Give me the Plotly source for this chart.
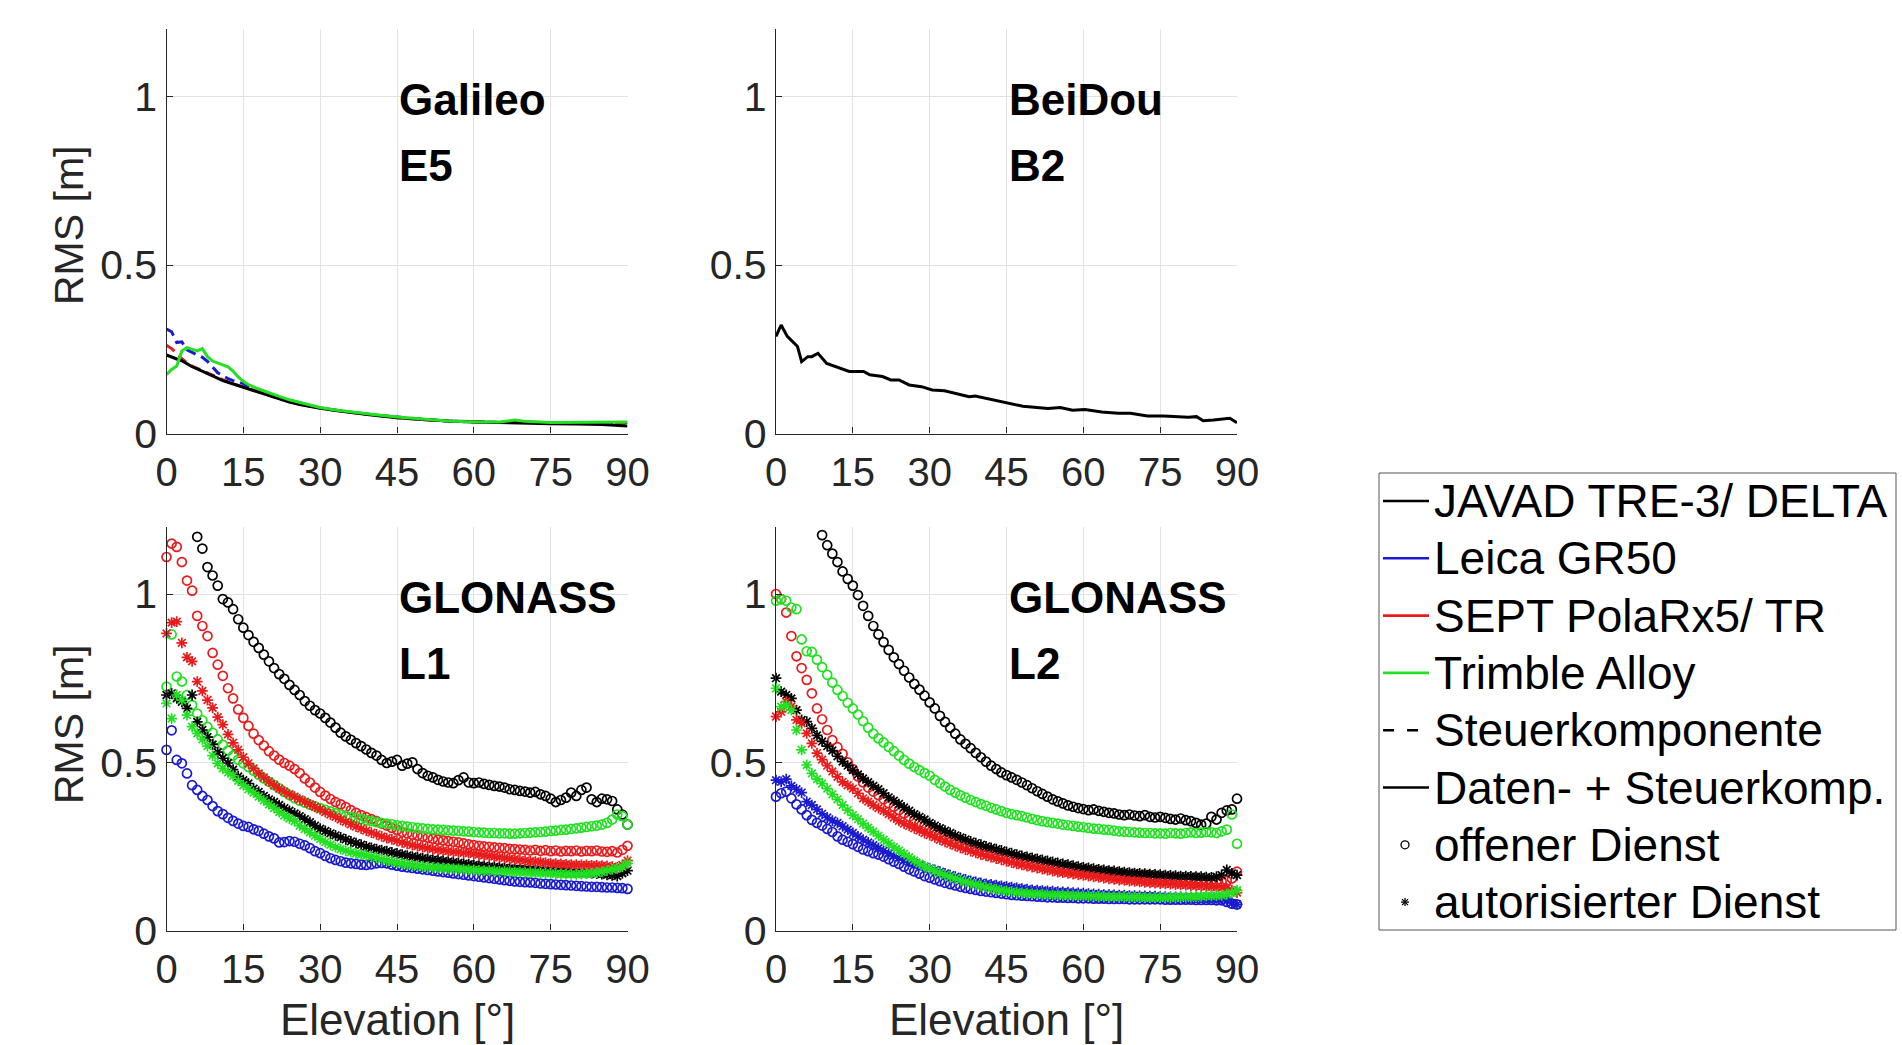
import plotly.graph_objects as go

# ---------------- data ----------------
ELEV = list(range(0, 91))          # elevation grid [deg] for GLONASS scatter data
X_TICKS = [0, 15, 30, 45, 60, 75, 90]
Y_TICKS = [0, 0.5, 1]
Y_TICKTEXT = ["0", "0.5", "1"]

# Galileo E5 (lines)
GAL_ELEV = [0, 1, 2, 3, 4, 5, 6, 7, 8, 9, 10, 11, 12, 13, 14, 15, 16, 18, 20, 22, 24, 26, 28, 30,
            33, 36, 40, 45, 50, 55, 60, 65, 68, 70, 75, 80, 85, 90]
GAL_JAVAD = [0.233, 0.226, 0.221, 0.216, 0.206, 0.198, 0.192, 0.185, 0.178, 0.17, 0.163, 0.157, 0.152,
             0.147, 0.142, 0.137, 0.132, 0.122, 0.112, 0.102, 0.093, 0.086, 0.08, 0.075, 0.068, 0.062,
             0.055, 0.047, 0.041, 0.037, 0.034, 0.032, 0.03, 0.03, 0.029, 0.028, 0.027, 0.022]
GAL_LEICA = [0.31, 0.302, 0.27, 0.272, 0.248, 0.24, 0.232, 0.226, 0.214, 0.196, 0.18, 0.172, 0.163,
             0.157, 0.152, 0.148, 0.14, 0.128, 0.116, 0.104, 0.095, 0.087, 0.081, 0.076, 0.069, 0.063,
             0.056, 0.048, 0.042, 0.037, 0.034, 0.033, 0.033, 0.033, 0.032, 0.032, 0.033, 0.033]
GAL_SEPT = [0.262, 0.252, 0.238, 0.222, 0.21, 0.2, 0.193, 0.186, 0.179, 0.172, 0.165, 0.159, 0.153,
            0.148, 0.143, 0.139, 0.134, 0.125, 0.114, 0.104, 0.094, 0.087, 0.081, 0.076, 0.069, 0.063,
            0.056, 0.047, 0.041, 0.037, 0.034, 0.033, 0.033, 0.032, 0.031, 0.031, 0.031, 0.031]
GAL_TRIMBLE = [0.175, 0.19, 0.2, 0.245, 0.255, 0.25, 0.245, 0.252, 0.228, 0.215, 0.21, 0.205, 0.198,
               0.185, 0.168, 0.155, 0.145, 0.132, 0.12, 0.11, 0.1, 0.092, 0.083, 0.077, 0.07, 0.064,
               0.057, 0.049, 0.042, 0.037, 0.034, 0.034, 0.04, 0.036, 0.033, 0.033, 0.034, 0.034]

# BeiDou B2 (line)
BDS_ELEV = [0, 1, 2.2, 3.4, 4.2, 5, 6.2, 7, 8.2, 9.9, 11.9, 14.3, 17.1, 18.3, 20.8, 22.4, 24, 26, 28.4,
            30.5, 32.9, 35.3, 37.7, 38.9, 41.8, 45, 48.2, 53.1, 55.5, 57.9, 60.3, 63.6, 66.8, 69.2, 72.5,
            75.7, 80.5, 82.1, 83.4, 85.4, 88.6, 90]
BDS_JAVAD = [0.288, 0.322, 0.288, 0.268, 0.258, 0.213, 0.228, 0.228, 0.238, 0.208, 0.198, 0.184, 0.184,
             0.174, 0.169, 0.159, 0.159, 0.144, 0.139, 0.129, 0.127, 0.117, 0.109, 0.111, 0.101, 0.091,
             0.081, 0.074, 0.077, 0.069, 0.071, 0.064, 0.06, 0.06, 0.052, 0.052, 0.048, 0.05, 0.038,
             0.04, 0.045, 0.032]

N = None
# GLONASS L1 - offener Dienst (circles) / autorisierter Dienst (stars)
L1_JAVAD_OS = [N, N, N, N, N, N, 1.17, 1.135, 1.08, 1.055,
               1.025, 0.985, 0.975, 0.955, 0.925, 0.9, 0.878, 0.858, 0.84, 0.82,
               0.8, 0.78, 0.762, 0.748, 0.73, 0.715, 0.7, 0.682, 0.668, 0.655,
               0.645, 0.632, 0.618, 0.603, 0.588, 0.577, 0.567, 0.557, 0.548, 0.538,
               0.528, 0.52, 0.507, 0.498, 0.502, 0.507, 0.49, 0.496, 0.5, 0.48,
               0.468, 0.46, 0.455, 0.448, 0.443, 0.44, 0.438, 0.447, 0.455, 0.44,
               0.438, 0.44, 0.436, 0.433, 0.43, 0.428, 0.425, 0.42, 0.418, 0.415,
               0.413, 0.41, 0.412, 0.405, 0.4, 0.392, 0.382, 0.388, 0.395, 0.41,
               0.4, 0.418, 0.425, 0.39, 0.382, 0.392, 0.39, 0.385, 0.36, 0.345,
               0.315]
L1_SEPT_OS = [1.11, 1.15, 1.14, 1.095, 1.04, 1.01, 0.935, 0.905, 0.875, 0.825,
              0.79, 0.757, 0.72, 0.69, 0.657, 0.632, 0.608, 0.585, 0.566, 0.55,
              0.533, 0.52, 0.508, 0.498, 0.49, 0.48, 0.468, 0.452, 0.44, 0.425,
              0.412, 0.401, 0.391, 0.382, 0.375, 0.367, 0.358, 0.35, 0.343, 0.337,
              0.331, 0.325, 0.318, 0.312, 0.305, 0.299, 0.293, 0.289, 0.285, 0.282,
              0.279, 0.276, 0.273, 0.27, 0.268, 0.266, 0.264, 0.262, 0.259, 0.256,
              0.254, 0.252, 0.25, 0.249, 0.247, 0.246, 0.245, 0.243, 0.242, 0.241,
              0.24, 0.238, 0.24, 0.237, 0.239, 0.236, 0.238, 0.235, 0.237, 0.236,
              0.238, 0.235, 0.237, 0.236, 0.238, 0.235, 0.234, 0.236, 0.232, 0.24,
              0.252]
L1_SEPT_AS = [0.883, 0.915, 0.918, 0.855, 0.812, 0.8, 0.74, 0.712, 0.685, 0.662,
              0.634, 0.612, 0.583, 0.558, 0.537, 0.515, 0.497, 0.482, 0.467, 0.455,
              0.443, 0.432, 0.422, 0.413, 0.405, 0.398, 0.39, 0.383, 0.375, 0.368,
              0.36, 0.352, 0.345, 0.338, 0.33, 0.323, 0.316, 0.309, 0.303, 0.297,
              0.291, 0.286, 0.28, 0.275, 0.271, 0.267, 0.262, 0.258, 0.254, 0.251,
              0.248, 0.245, 0.243, 0.24, 0.238, 0.236, 0.234, 0.233, 0.231, 0.23,
              0.228, 0.226, 0.224, 0.222, 0.22, 0.218, 0.216, 0.214, 0.212, 0.21,
              0.208, 0.206, 0.205, 0.204, 0.202, 0.2, 0.199, 0.198, 0.197, 0.196,
              0.196, 0.195, 0.195, 0.194, 0.194, 0.193, 0.192, 0.19, 0.188, 0.195,
              0.208]
L1_TRIM_OS = [0.725, 0.88, 0.755, 0.74, 0.7, 0.67, 0.645, 0.625, 0.605, 0.588,
              0.568, 0.552, 0.535, 0.52, 0.508, 0.497, 0.486, 0.475, 0.463, 0.452,
              0.442, 0.433, 0.423, 0.412, 0.402, 0.393, 0.386, 0.38, 0.374, 0.369,
              0.364, 0.359, 0.354, 0.349, 0.345, 0.341, 0.337, 0.334, 0.331, 0.328,
              0.325, 0.322, 0.32, 0.318, 0.316, 0.313, 0.311, 0.309, 0.307, 0.305,
              0.304, 0.302, 0.301, 0.3, 0.299, 0.298, 0.297, 0.296, 0.295, 0.294,
              0.293, 0.292, 0.291, 0.29, 0.29, 0.289, 0.289, 0.288, 0.288, 0.289,
              0.29, 0.291, 0.292, 0.293, 0.294, 0.296, 0.297, 0.299, 0.3, 0.302,
              0.304, 0.306, 0.308, 0.31, 0.312, 0.315, 0.32, 0.33, 0.345, 0.34,
              0.315]
L1_TRIM_AS = [0.675, 0.63, 0.7, 0.685, 0.64, 0.606, 0.586, 0.568, 0.548, 0.52,
              0.497, 0.482, 0.47, 0.46, 0.445, 0.432, 0.42, 0.41, 0.398, 0.387,
              0.375, 0.364, 0.352, 0.342, 0.333, 0.325, 0.312, 0.302, 0.292, 0.282,
              0.272, 0.263, 0.255, 0.248, 0.242, 0.237, 0.233, 0.229, 0.226, 0.223,
              0.22, 0.216, 0.212, 0.208, 0.205, 0.202, 0.199, 0.196, 0.194, 0.192,
              0.19, 0.189, 0.188, 0.187, 0.186, 0.185, 0.184, 0.183, 0.182, 0.181,
              0.18, 0.179, 0.178, 0.178, 0.177, 0.176, 0.176, 0.175, 0.174, 0.174,
              0.173, 0.172, 0.172, 0.171, 0.17, 0.17, 0.169, 0.168, 0.168, 0.167,
              0.167, 0.168, 0.169, 0.17, 0.172, 0.175, 0.178, 0.182, 0.185, 0.19,
              0.2]
L1_JAVAD_AS = [0.7, 0.705, 0.69, 0.68, 0.66, 0.7, 0.62, 0.596, 0.575, 0.553,
               0.53, 0.512, 0.498, 0.478, 0.458, 0.447, 0.437, 0.422, 0.412, 0.4,
               0.39, 0.382, 0.373, 0.364, 0.356, 0.348, 0.34, 0.331, 0.322, 0.312,
               0.303, 0.296, 0.289, 0.283, 0.277, 0.271, 0.265, 0.26, 0.255, 0.25,
               0.246, 0.242, 0.239, 0.236, 0.232, 0.229, 0.226, 0.223, 0.22, 0.218,
               0.215, 0.213, 0.211, 0.209, 0.207, 0.205, 0.203, 0.201, 0.199, 0.197,
               0.195, 0.193, 0.192, 0.19, 0.189, 0.188, 0.186, 0.185, 0.184, 0.183,
               0.182, 0.181, 0.18, 0.179, 0.178, 0.177, 0.176, 0.175, 0.174, 0.173,
               0.172, 0.171, 0.17, 0.17, 0.169, 0.168, 0.166, 0.164, 0.162, 0.17,
               0.178]
L1_LEICA_OS = [0.537, 0.595, 0.507, 0.497, 0.467, 0.432, 0.418, 0.4, 0.388, 0.37,
               0.355, 0.346, 0.335, 0.326, 0.318, 0.311, 0.308, 0.301, 0.296, 0.288,
               0.28, 0.274, 0.262, 0.263, 0.266, 0.264, 0.258, 0.253, 0.245, 0.236,
               0.23, 0.222, 0.215, 0.21, 0.206, 0.202, 0.2, 0.198, 0.196, 0.195,
               0.197, 0.2, 0.201, 0.2, 0.196, 0.193, 0.19, 0.188, 0.186, 0.184,
               0.182, 0.18, 0.178, 0.176, 0.174, 0.172, 0.17, 0.168, 0.166, 0.164,
               0.162, 0.16, 0.158, 0.156, 0.154, 0.152, 0.15, 0.148, 0.146, 0.145,
               0.144, 0.143, 0.142, 0.14, 0.139, 0.138, 0.137, 0.136, 0.135, 0.134,
               0.133, 0.132, 0.131, 0.13, 0.13, 0.129, 0.128, 0.128, 0.127, 0.126,
               0.124]

# GLONASS L2
L2_JAVAD_OS = [N, N, N, N, N, N, N, N, N, 1.175,
               1.145, 1.12, 1.095, 1.067, 1.045, 1.025, 0.997, 0.965, 0.935, 0.905,
               0.88, 0.857, 0.834, 0.812, 0.792, 0.772, 0.752, 0.733, 0.716, 0.698,
               0.678, 0.66, 0.638, 0.62, 0.603, 0.585, 0.568, 0.555, 0.542, 0.528,
               0.515, 0.502, 0.49, 0.48, 0.47, 0.462, 0.455, 0.448, 0.44, 0.432,
               0.423, 0.414, 0.406, 0.398, 0.39, 0.384, 0.378, 0.372, 0.368, 0.364,
               0.361, 0.358, 0.36, 0.356, 0.353, 0.35, 0.348, 0.345, 0.343, 0.345,
               0.342, 0.34, 0.343, 0.338, 0.336, 0.338, 0.335, 0.332, 0.33, 0.333,
               0.328, 0.325, 0.32, 0.315, 0.318, 0.338, 0.33, 0.35, 0.357, 0.36,
               0.392]
L2_TRIM_OS = [0.98, 0.985, 0.98, 0.96, 0.955, 0.865, 0.83, 0.828, 0.805, 0.783,
              0.76, 0.737, 0.715, 0.697, 0.677, 0.66, 0.642, 0.622, 0.603, 0.585,
              0.571, 0.559, 0.546, 0.533, 0.52, 0.507, 0.496, 0.486, 0.477, 0.468,
              0.46, 0.448, 0.438, 0.428, 0.418, 0.41, 0.402, 0.395, 0.388, 0.382,
              0.376, 0.371, 0.365, 0.36, 0.355, 0.35, 0.346, 0.343, 0.34, 0.336,
              0.332, 0.328, 0.325, 0.322, 0.32, 0.318, 0.315, 0.313, 0.311, 0.309,
              0.307, 0.305, 0.303, 0.302, 0.3, 0.299, 0.297, 0.295, 0.294, 0.293,
              0.292, 0.291, 0.29, 0.29, 0.289, 0.289, 0.288, 0.29, 0.289, 0.288,
              0.29, 0.292, 0.29, 0.291, 0.293, 0.292, 0.29, 0.295, 0.3, 0.345,
              0.258]
L2_SEPT_OS = [1.0, 0.985, 0.945, 0.875, 0.815, 0.78, 0.745, 0.705, 0.66, 0.628,
              0.596, 0.566, 0.545, 0.525, 0.5, 0.48, 0.458, 0.44, 0.425, 0.413,
              0.402, 0.39, 0.378, 0.368, 0.358, 0.348, 0.338, 0.329, 0.32, 0.312,
              0.305, 0.298, 0.291, 0.284, 0.278, 0.272, 0.266, 0.26, 0.255, 0.25,
              0.245, 0.24, 0.236, 0.232, 0.228, 0.224, 0.22, 0.216, 0.212, 0.208,
              0.205, 0.202, 0.199, 0.196, 0.193, 0.19, 0.188, 0.186, 0.184, 0.182,
              0.18, 0.178, 0.176, 0.175, 0.173, 0.172, 0.17, 0.168, 0.167, 0.166,
              0.164, 0.163, 0.162, 0.161, 0.16, 0.158, 0.157, 0.156, 0.155, 0.154,
              0.153, 0.152, 0.151, 0.15, 0.149, 0.148, 0.147, 0.146, 0.148, 0.155,
              0.175]
L2_SEPT_AS = [0.636, 0.65, 0.68, 0.666, 0.626, 0.616, 0.586, 0.556, 0.527, 0.508,
              0.49, 0.473, 0.457, 0.442, 0.432, 0.422, 0.408, 0.393, 0.383, 0.373,
              0.364, 0.356, 0.346, 0.336, 0.326, 0.318, 0.311, 0.304, 0.297, 0.29,
              0.284, 0.277, 0.27, 0.264, 0.258, 0.252, 0.246, 0.241, 0.236, 0.231,
              0.226, 0.222, 0.218, 0.214, 0.21, 0.206, 0.202, 0.198, 0.195, 0.192,
              0.189, 0.186, 0.183, 0.18, 0.177, 0.174, 0.172, 0.17, 0.168, 0.166,
              0.164, 0.162, 0.16, 0.158, 0.156, 0.154, 0.152, 0.15, 0.149, 0.147,
              0.146, 0.145, 0.143, 0.142, 0.141, 0.14, 0.139, 0.138, 0.137, 0.136,
              0.135, 0.134, 0.133, 0.132, 0.131, 0.13, 0.129, 0.128, 0.126, 0.12,
              0.113]
L2_JAVAD_AS = [0.75, 0.71, 0.7, 0.69, 0.655, 0.626, 0.621, 0.601, 0.58, 0.562,
               0.548, 0.535, 0.518, 0.502, 0.49, 0.477, 0.464, 0.452, 0.441, 0.43,
               0.42, 0.408, 0.396, 0.386, 0.376, 0.366, 0.356, 0.346, 0.338, 0.33,
               0.32, 0.312, 0.304, 0.297, 0.29, 0.283, 0.277, 0.271, 0.265, 0.26,
               0.255, 0.25, 0.246, 0.242, 0.238, 0.234, 0.23, 0.226, 0.222, 0.219,
               0.216, 0.213, 0.21, 0.207, 0.204, 0.201, 0.198, 0.196, 0.193, 0.19,
               0.188, 0.186, 0.184, 0.182, 0.18, 0.178, 0.177, 0.175, 0.174, 0.172,
               0.171, 0.17, 0.169, 0.168, 0.167, 0.166, 0.165, 0.164, 0.163, 0.162,
               0.162, 0.161, 0.16, 0.16, 0.159, 0.158, 0.16, 0.165, 0.18, 0.17,
               0.165]
L2_TRIM_AS = [0.72, 0.665, 0.67, 0.655, 0.596, 0.537, 0.492, 0.467, 0.45, 0.437,
              0.422, 0.405, 0.39, 0.373, 0.358, 0.343, 0.331, 0.318, 0.306, 0.294,
              0.282, 0.27, 0.259, 0.248, 0.238, 0.228, 0.218, 0.208, 0.199, 0.191,
              0.184, 0.177, 0.171, 0.165, 0.16, 0.155, 0.15, 0.145, 0.141, 0.137,
              0.133, 0.129, 0.126, 0.123, 0.12, 0.118, 0.116, 0.114, 0.112, 0.111,
              0.11, 0.109, 0.108, 0.107, 0.106, 0.106, 0.105, 0.105, 0.104, 0.104,
              0.103, 0.103, 0.102, 0.102, 0.101, 0.101, 0.1, 0.1, 0.1, 0.099,
              0.099, 0.099, 0.098, 0.098, 0.098, 0.098, 0.098, 0.099, 0.099, 0.1,
              0.1, 0.101, 0.101, 0.102, 0.103, 0.103, 0.104, 0.105, 0.108, 0.112,
              0.12]
L2_LEICA_OS = [0.398, 0.408, 0.413, 0.393, 0.375, 0.36, 0.343, 0.329, 0.32, 0.312,
               0.302, 0.293, 0.28, 0.27, 0.264, 0.257, 0.249, 0.241, 0.236, 0.23,
               0.226, 0.22, 0.212, 0.205, 0.198, 0.19, 0.182, 0.176, 0.169, 0.162,
               0.157, 0.152, 0.147, 0.142, 0.138, 0.134, 0.13, 0.127, 0.124, 0.121,
               0.118, 0.116, 0.114, 0.112, 0.11, 0.108, 0.106, 0.105, 0.104, 0.103,
               0.102, 0.101, 0.1, 0.099, 0.099, 0.098, 0.098, 0.097, 0.097, 0.096,
               0.096, 0.096, 0.095, 0.095, 0.095, 0.094, 0.094, 0.094, 0.094, 0.093,
               0.093, 0.093, 0.093, 0.093, 0.093, 0.093, 0.092, 0.092, 0.092, 0.092,
               0.092, 0.092, 0.091, 0.091, 0.091, 0.091, 0.09, 0.09, 0.085, 0.08,
               0.078]
L2_LEICA_AS = [0.447, 0.442, 0.45, 0.43, 0.42, 0.41, 0.383, 0.373, 0.36, 0.347,
               0.336, 0.327, 0.32, 0.31, 0.3, 0.29, 0.28, 0.27, 0.262, 0.254,
               0.245, 0.237, 0.229, 0.222, 0.216, 0.21, 0.205, 0.2, 0.195, 0.19,
               0.185, 0.18, 0.175, 0.17, 0.165, 0.16, 0.156, 0.152, 0.148, 0.145,
               0.142, 0.139, 0.137, 0.135, 0.133, 0.131, 0.129, 0.127, 0.125, 0.123,
               0.121, 0.12, 0.119, 0.118, 0.117, 0.116, 0.115, 0.114, 0.113, 0.112,
               0.111, 0.11, 0.109, 0.108, 0.107, 0.107, 0.106, 0.105, 0.105, 0.104,
               0.104, 0.103, 0.103, 0.102, 0.102, 0.101, 0.101, 0.1, 0.1, 0.1,
               0.099, 0.099, 0.098, 0.098, 0.097, 0.097, 0.096, 0.095, 0.09, 0.082,
               0.078]

RECEIVERS = ["JAVAD TRE-3/ DELTA", "Leica GR50", "SEPT PolaRx5/ TR", "Trimble Alloy"]
COMPONENTS = ["Steuerkomponente", "Daten- + Steuerkomp."]
SERVICES = ["offener Dienst", "autorisierter Dienst"]
PANEL_LABELS = [("Galileo", "E5"), ("BeiDou", "B2"), ("GLONASS", "L1"), ("GLONASS", "L2")]

# ---------------- styling ----------------
BLACK = "#000000"
BLUE = "#1a1ad0"
RED = "#e81c1c"
GREEN = "#22e022"
FONT = "Liberation Sans, Arial, Helvetica, sans-serif"
AXC = "#262626"

W, H = 1902, 1045
XDOM = [[166.5 / W, 627.5 / W], [776 / W, 1237 / W]]
YDOM = [[1 - 433.5 / H, 1 - 29.1 / H], [1 - 930.6 / H, 1 - 526.7 / H]]


def px(v):
    return v / W


def py(v):
    return 1 - v / H


fig = go.Figure()


def line(xa, ya, x, y, color, dash="solid"):
    fig.add_trace(go.Scatter(x=x, y=y, mode="lines", xaxis=xa, yaxis=ya, showlegend=False,
                             line=dict(color=color, width=3, dash=dash), cliponaxis=False,
                             hoverinfo="skip"))


def pts(xa, ya, y, color, symbol):
    fig.add_trace(go.Scatter(x=ELEV, y=y, mode="markers", xaxis=xa, yaxis=ya, showlegend=False,
                             cliponaxis=False, hoverinfo="skip",
                             marker=dict(symbol=symbol, size=9, color=color,
                                         line=dict(color=color, width=1.7))))


# Galileo E5
DASH = "10px,6px"
line("x", "y", GAL_ELEV, GAL_LEICA, BLUE, DASH)
line("x", "y", GAL_ELEV, GAL_SEPT, RED, DASH)
line("x", "y", GAL_ELEV, GAL_JAVAD, BLACK)
line("x", "y", GAL_ELEV, GAL_TRIMBLE, GREEN)
# BeiDou B2
line("x2", "y2", BDS_ELEV, BDS_JAVAD, BLACK)
# GLONASS L1
pts("x3", "y3", L1_JAVAD_OS, BLACK, "circle-open")
pts("x3", "y3", L1_LEICA_OS, BLUE, "circle-open")
pts("x3", "y3", L1_SEPT_OS, RED, "circle-open")
pts("x3", "y3", L1_TRIM_OS, GREEN, "circle-open")
pts("x3", "y3", L1_JAVAD_AS, BLACK, "asterisk-open")
pts("x3", "y3", L1_SEPT_AS, RED, "asterisk-open")
pts("x3", "y3", L1_TRIM_AS, GREEN, "asterisk-open")
# GLONASS L2
pts("x4", "y4", L2_JAVAD_OS, BLACK, "circle-open")
pts("x4", "y4", L2_LEICA_OS, BLUE, "circle-open")
pts("x4", "y4", L2_SEPT_OS, RED, "circle-open")
pts("x4", "y4", L2_TRIM_OS, GREEN, "circle-open")
pts("x4", "y4", L2_LEICA_AS, BLUE, "asterisk-open")
pts("x4", "y4", L2_JAVAD_AS, BLACK, "asterisk-open")
pts("x4", "y4", L2_SEPT_AS, RED, "asterisk-open")
pts("x4", "y4", L2_TRIM_AS, GREEN, "asterisk-open")


def xaxis(dom, anchor):
    return dict(domain=dom, anchor=anchor, range=[0, 90], tickvals=X_TICKS, automargin=False,
                showline=True, linecolor=AXC, linewidth=1.3, mirror=False,
                ticks="inside", ticklen=6, tickcolor=AXC, tickwidth=1,
                showgrid=True, gridcolor="#e2e2e2", gridwidth=1, zeroline=False,
                tickfont=dict(family=FONT, size=40, color=AXC), ticklabelstandoff=3)


def yaxis(dom, anchor):
    return dict(domain=dom, anchor=anchor, range=[0, 1.2], tickvals=Y_TICKS, ticktext=Y_TICKTEXT,
                automargin=False,
                showline=True, linecolor=AXC, linewidth=1.3, mirror=False,
                ticks="inside", ticklen=6, tickcolor=AXC, tickwidth=1,
                showgrid=True, gridcolor="#e2e2e2", gridwidth=1, zeroline=False,
                tickfont=dict(family=FONT, size=41, color=AXC), ticklabelstandoff=0)


annotations = []
shapes = []
axes_ids = [("x", "y"), ("x2", "y2"), ("x3", "y3"), ("x4", "y4")]
for (xa, ya), (l1, l2) in zip(axes_ids, PANEL_LABELS):
    for txt, yy in [(l1, 0.99), (l2, 0.795)]:
        annotations.append(dict(text="<b>%s</b>" % txt, x=45, y=yy, xref=xa, yref=ya,
                                xanchor="left", yanchor="middle", showarrow=False,
                                font=dict(family=FONT, size=44, color=BLACK)))
# axis titles
for yc in [226, 725]:
    annotations.append(dict(text="RMS [m]", x=px(69), y=py(yc), xref="paper", yref="paper",
                            textangle=-90, xanchor="center", yanchor="middle", showarrow=False,
                            font=dict(family=FONT, size=41, color=AXC)))
for xc in [(166.5 + 627.5) / 2, (776 + 1237) / 2]:
    annotations.append(dict(text="Elevation [°]", x=px(xc), y=py(1019), xref="paper", yref="paper",
                            xanchor="center", yanchor="middle", showarrow=False,
                            font=dict(family=FONT, size=44, color=AXC)))

# ---------------- legend box (MATLAB style) ----------------
LEG_L, LEG_R, LEG_T, LEG_B = 1379, 1896, 473, 930
shapes.append(dict(type="rect", xref="paper", yref="paper", x0=px(LEG_L), x1=px(LEG_R),
                   y0=py(LEG_B), y1=py(LEG_T), line=dict(color="#555555", width=1),
                   fillcolor="white", layer="above"))
entries = ([(n, c, "solid") for n, c in zip(RECEIVERS, [BLACK, BLUE, RED, GREEN])]
           + [(COMPONENTS[0], BLACK, "dash"), (COMPONENTS[1], BLACK, "solid")]
           + [(SERVICES[0], BLACK, "circle"), (SERVICES[1], BLACK, "star")])
ROW0, ROWSTEP = 501, 57.3
SX0, SX1, SXC = 1383, 1429, 1405
for i, (name, col, kind) in enumerate(entries):
    yc = ROW0 + ROWSTEP * i
    annotations.append(dict(text=name, x=px(1432), y=py(yc), xref="paper", yref="paper",
                            xanchor="left", yanchor="middle", showarrow=False,
                            font=dict(family=FONT, size=46, color=BLACK)))
    if kind == "solid":
        shapes.append(dict(type="line", xref="paper", yref="paper", x0=px(SX0), x1=px(SX1),
                           y0=py(yc), y1=py(yc), line=dict(color=col, width=2.6), layer="above"))
    elif kind == "dash":
        shapes.append(dict(type="line", xref="paper", yref="paper", x0=px(SX0), x1=px(1421),
                           y0=py(yc), y1=py(yc), line=dict(color=col, width=2.6, dash="11px,13px"),
                           layer="above"))
    elif kind == "circle":
        shapes.append(dict(type="circle", xref="paper", yref="paper", x0=px(SXC - 4), x1=px(SXC + 4),
                           y0=py(yc + 4), y1=py(yc - 4), line=dict(color=col, width=1.3),
                           layer="above"))
    else:
        for dx, dy in [(4, 0), (0, 4), (3, 3), (3, -3)]:
            shapes.append(dict(type="line", xref="paper", yref="paper",
                               x0=px(SXC - dx), x1=px(SXC + dx), y0=py(yc - dy), y1=py(yc + dy),
                               line=dict(color=col, width=1.3), layer="above"))

fig.update_layout(
    width=W, height=H, margin=dict(l=0, r=0, t=0, b=0, autoexpand=False),
    paper_bgcolor="white", plot_bgcolor="white",
    xaxis=xaxis(XDOM[0], "y"), yaxis=yaxis(YDOM[0], "x"),
    xaxis2=xaxis(XDOM[1], "y2"), yaxis2=yaxis(YDOM[0], "x2"),
    xaxis3=xaxis(XDOM[0], "y3"), yaxis3=yaxis(YDOM[1], "x3"),
    xaxis4=xaxis(XDOM[1], "y4"), yaxis4=yaxis(YDOM[1], "x4"),
    annotations=annotations, shapes=shapes,
    showlegend=False,
)

fig.write_html("out.html", config={"displayModeBar": False},
               post_script="document.body.style.margin='0px';")
